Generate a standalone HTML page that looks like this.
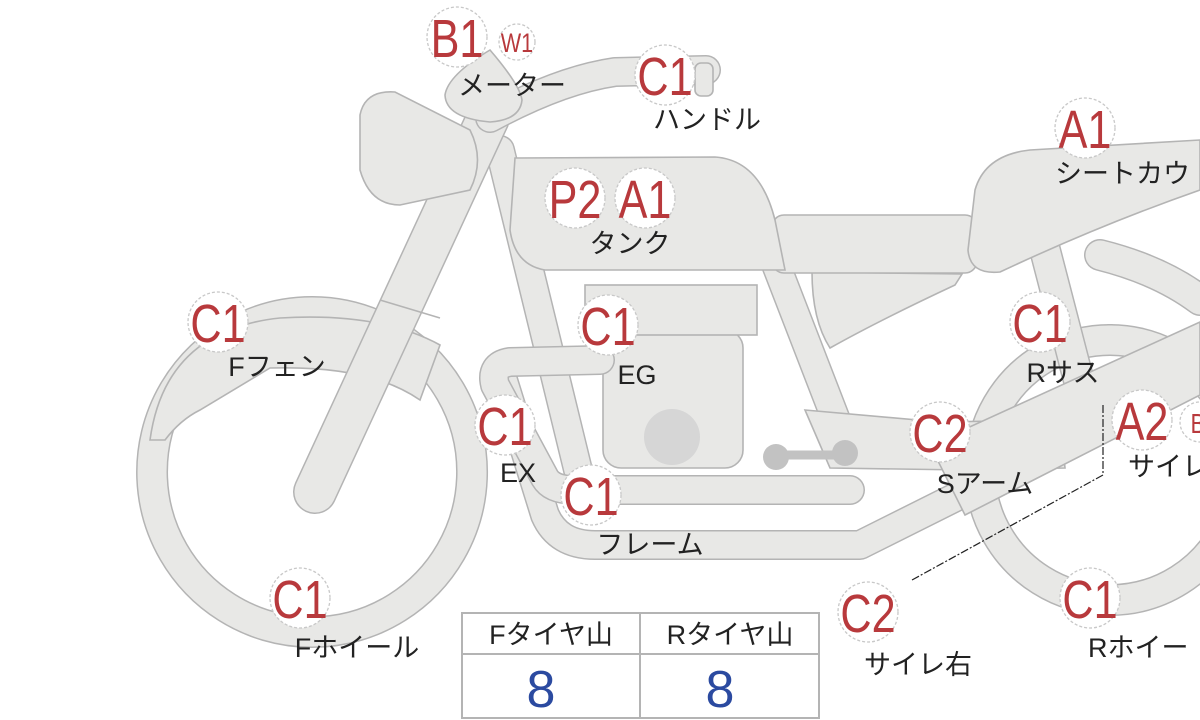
<!DOCTYPE html>
<html><head><meta charset="utf-8"><style>
html,body{margin:0;padding:0;background:#fff;width:1200px;height:720px;overflow:hidden}
svg{display:block}
.o{fill:none;stroke:#b4b4b4;stroke-linecap:round;stroke-linejoin:round}
.f{fill:none;stroke:#e8e8e6;stroke-linecap:round;stroke-linejoin:round}
.s{fill:#e8e8e6;stroke:#b4b4b4;stroke-width:1.6}
.b{fill:#fff;stroke:#c8c8c8;stroke-width:1.3;stroke-dasharray:3 2}
.r{fill:#b8393c;font-family:"Liberation Sans",sans-serif;font-size:54px;text-anchor:middle;transform-box:fill-box;transform-origin:center;transform:scaleX(.8)}
.k{fill:#222;font-family:"Liberation Sans","Noto Sans CJK JP",sans-serif;font-size:27px;text-anchor:middle}
</style></head><body>
<svg width="1200" height="720" viewBox="0 0 1200 720" xmlns="http://www.w3.org/2000/svg">
<defs>
<path id="rw" d="M1110,340 a130,130 0 1,0 0.1,0"/>
<path id="fw" d="M312,312 a160,160 0 1,0 0.1,0"/>
<path id="fork" d="M315,492 L488,118"/>
<path id="bar" d="M490,118 Q560,80 615,72 L706,70"/>
<path id="dt" d="M500,150 L578,470"/>
<path id="rt" d="M775,262 L838,425"/>
<path id="rs" d="M1045,250 L1080,385"/>
<path id="rs2" d="M1100,255 Q1160,270 1200,300"/>
<path id="fr" d="M500,370 L545,515 Q558,545 595,545 L860,545 L1010,470"/>
<path id="ex" d="M600,360 L510,362 Q490,365 495,385 L545,478 Q552,490 575,490 L850,490"/>
</defs>
<use href="#rw" class="o" stroke-width="32"/><use href="#rw" class="f" stroke-width="29"/>
<use href="#fw" class="o" stroke-width="32"/><use href="#fw" class="f" stroke-width="29"/>
<path class="s" d="M150,440 Q165,330 280,318 Q380,312 440,345 L420,400 Q370,365 270,368 L200,410 Q180,420 165,440 Z"/>
<use href="#rs" class="o" stroke-width="32"/><use href="#rs" class="f" stroke-width="29"/>
<use href="#rs2" class="o" stroke-width="32"/><use href="#rs2" class="f" stroke-width="29"/>
<use href="#dt" class="o" stroke-width="30"/><use href="#dt" class="f" stroke-width="27"/>
<use href="#rt" class="o" stroke-width="30"/><use href="#rt" class="f" stroke-width="27"/>
<use href="#fr" class="o" stroke-width="30"/><use href="#fr" class="f" stroke-width="27"/>
<rect class="s" x="603" y="330" width="140" height="138" rx="18"/>
<rect class="s" x="585" y="285" width="172" height="50"/>
<circle cx="672" cy="437" r="28" fill="#d6d6d6"/>
<use href="#ex" class="o" stroke-width="30"/><use href="#ex" class="f" stroke-width="27"/>
<path class="s" d="M805,410 L940,422 L1060,420 L1065,468 L965,470 L830,468 Z"/>
<path class="s" d="M930,445 L1200,322 L1200,395 L965,515 Z"/>
<path d="M770,455 L840,455" stroke="#c2c2c2" stroke-width="9" stroke-linecap="round"/>
<circle cx="776" cy="457" r="13" fill="#c2c2c2"/><circle cx="845" cy="453" r="13" fill="#c2c2c2"/>
<path class="s" d="M812,272 L962,274 L955,285 Q880,320 830,348 Q812,320 812,272 Z"/>
<rect class="s" x="772" y="215" width="205" height="58" rx="12"/>
<path class="s" d="M975,190 Q985,155 1030,150 L1200,140 L1200,190 Q1100,225 1000,272 Q970,275 968,250 Z"/>
<path class="s" d="M515,158 L715,157 Q760,160 775,220 L785,270 L545,270 Q515,265 510,230 Z"/>
<use href="#fork" class="o" stroke-width="44"/><use href="#fork" class="f" stroke-width="41"/>
<path d="M380,300 L440,318" stroke="#b4b4b4" stroke-width="1.5"/>
<path class="s" d="M360,115 Q365,90 395,92 L470,130 Q485,160 470,190 L400,205 Q370,205 360,170 Z"/>
<use href="#bar" class="o" stroke-width="30"/><use href="#bar" class="f" stroke-width="27"/>
<rect class="s" x="695" y="63" width="18" height="33" rx="6"/>
<path class="s" d="M490,50 Q520,85 522,100 Q520,120 490,122 Q446,118 445,95 Q448,75 490,50 Z"/>
<path d="M1103,405 L1103,475 L912,580" fill="none" stroke="#222" stroke-width="1.2" stroke-dasharray="8 2 2 2"/>
<g>
<circle class="b" cx="457" cy="37" r="30"/><text class="r" x="457" y="57">B1</text>
<circle class="b" cx="517" cy="42" r="18"/><text class="r" x="517" y="52" style="font-size:27px">W1</text>
<circle class="b" cx="665" cy="75" r="30"/><text class="r" x="665" y="95">C1</text>
<circle class="b" cx="575" cy="198" r="30"/><text class="r" x="575" y="218">P2</text>
<circle class="b" cx="645" cy="198" r="30"/><text class="r" x="645" y="218">A1</text>
<circle class="b" cx="1085" cy="128" r="30"/><text class="r" x="1085" y="148">A1</text>
<circle class="b" cx="218" cy="322" r="30"/><text class="r" x="218" y="342">C1</text>
<circle class="b" cx="608" cy="325" r="30"/><text class="r" x="608" y="345">C1</text>
<circle class="b" cx="1040" cy="322" r="30"/><text class="r" x="1040" y="342">C1</text>
<circle class="b" cx="505" cy="425" r="30"/><text class="r" x="505" y="445">C1</text>
<circle class="b" cx="940" cy="432" r="30"/><text class="r" x="940" y="452">C2</text>
<circle class="b" cx="1142" cy="420" r="30"/><text class="r" x="1142" y="440">A2</text>
<circle class="b" cx="1200" cy="422" r="20"/><text class="r" x="1198" y="433" style="font-size:28px">B</text>
<circle class="b" cx="591" cy="495" r="30"/><text class="r" x="591" y="515">C1</text>
<circle class="b" cx="300" cy="598" r="30"/><text class="r" x="300" y="618">C1</text>
<circle class="b" cx="868" cy="612" r="30"/><text class="r" x="868" y="632">C2</text>
<circle class="b" cx="1090" cy="598" r="30"/><text class="r" x="1090" y="618">C1</text>
</g>
<g>
<text class="k" x="512" y="95">メーター</text>
<text class="k" x="707" y="129">ハンドル</text>
<text class="k" x="630" y="253">タンク</text>
<text class="k" x="1055" y="183" style="text-anchor:start">シートカウ</text>
<text class="k" x="277" y="376">Fフェン</text>
<text class="k" x="637" y="384">EG</text>
<text class="k" x="1063" y="382">Rサス</text>
<text class="k" x="518" y="482">EX</text>
<text class="k" x="985" y="493">Sアーム</text>
<text class="k" x="1128" y="476" style="text-anchor:start">サイレ</text>
<text class="k" x="650" y="554">フレーム</text>
<text class="k" x="357" y="657">Fホイール</text>
<text class="k" x="918" y="674">サイレ右</text>
<text class="k" x="1088" y="657" style="text-anchor:start">Rホイー</text>
</g>
<rect x="462" y="613" width="357" height="105" fill="#fff" stroke="#b4b4b4" stroke-width="2"/>
<line x1="462" y1="654" x2="819" y2="654" stroke="#b4b4b4" stroke-width="2"/>
<line x1="640" y1="613" x2="640" y2="718" stroke="#b4b4b4" stroke-width="2"/>
<text class="k" x="551" y="644">Fタイヤ山</text>
<text class="k" x="730" y="644">Rタイヤ山</text>
<text x="541" y="707" fill="#2b4aa0" font-family="Liberation Sans,sans-serif" font-size="52" text-anchor="middle">8</text>
<text x="720" y="707" fill="#2b4aa0" font-family="Liberation Sans,sans-serif" font-size="52" text-anchor="middle">8</text>
</svg>
</body></html>
